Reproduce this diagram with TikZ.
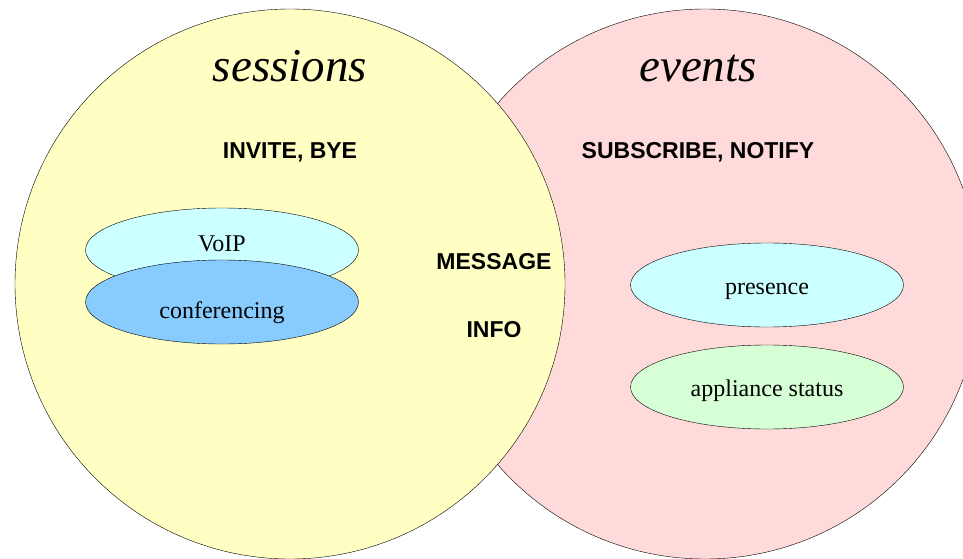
\documentclass[tikz,border=0pt]{standalone}
\usepackage{fontspec}
\setmainfont{Liberation Serif}
\setsansfont{Liberation Sans}
\usetikzlibrary{shapes.geometric}

\definecolor{sessfill}{RGB}{255,255,196}
\definecolor{evtfill}{RGB}{255,218,218}
\definecolor{voipfill}{RGB}{204,255,255}
\definecolor{conffill}{RGB}{136,204,255}
\definecolor{statfill}{RGB}{214,255,214}

\begin{document}
\begin{tikzpicture}[x=1pt,y=-1pt,
  area/.style={circle,draw,thin,minimum size=550pt,inner sep=0pt},
  usecase/.style={ellipse,draw,thin,minimum width=273pt,minimum height=84pt,inner sep=0pt},
  ucname/.style={anchor=base,font=\fontsize{24}{24}\selectfont},
  areaname/.style={anchor=base,font=\fontsize{47}{47}\selectfont\itshape},
  method/.style={anchor=base,font=\fontsize{23}{23}\selectfont\sffamily\bfseries}]
\useasboundingbox (0,0) rectangle (963,559);

% the two areas, sessions on top
\node[area,fill=evtfill] (events) at (705,284) {};
\node[area,fill=sessfill] (sessions) at (290,284) {};

\node[areaname] (sesstitle) at (290,82) {sessions};
\node[areaname] (evttitle) at (698,82) {events};

\node[method] (invite) at (290,158) {INVITE, BYE};
\node[method] (subscribe) at (698,158) {SUBSCRIBE, NOTIFY};
\node[method] (message) at (494,269) {MESSAGE};
\node[method] (info) at (494,337) {INFO};

% uses inside each area
\node[usecase,fill=voipfill] (voip) at (222,250) {};
\node[ucname] (voiptext) at (222,251) {VoIP};
\node[usecase,fill=conffill] (conf) at (222,302) {};
\node[ucname] (conftext) at (222,318) {conferencing};

\node[usecase,fill=voipfill] (presence) at (767,285) {};
\node[ucname] (prestext) at (767,294) {presence};
\node[usecase,fill=statfill] (status) at (767,387) {};
\node[ucname] (stattext) at (767,396) {appliance status};
\end{tikzpicture}
\end{document}
